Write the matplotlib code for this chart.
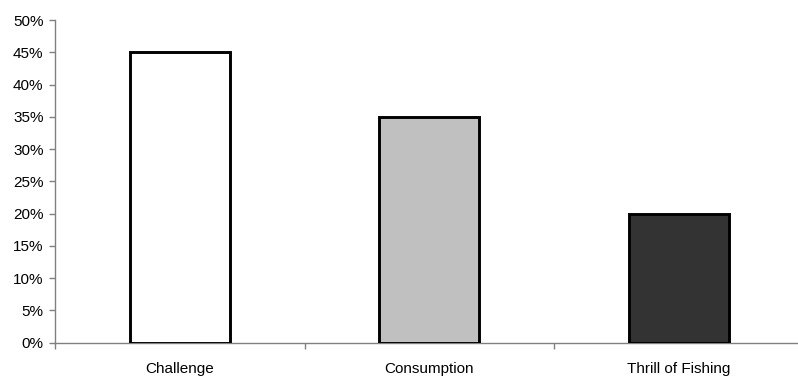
import numpy as np
import matplotlib.pyplot as plt
from matplotlib.ticker import FixedLocator, PercentFormatter

plt.rcParams['font.family'] = ['Liberation Sans', 'DejaVu Sans']

categories = ["Challenge", "Consumption", "Thrill of Fishing"]
shares = [45, 35, 20]
bar_colors = ["#FFFFFF", "#C0C0C0", "#333333"]

fig = plt.figure(figsize=(7.98, 3.79), dpi=100)
ax = fig.add_axes([55 / 798, 36.3 / 379, 748.5 / 798, 322.7 / 379])

x = np.arange(len(categories))
ax.bar(x, shares, width=0.4, color=bar_colors, edgecolor="black", linewidth=2.1, zorder=3)

ax.set_ylim(0, 50)
ax.set_yticks(np.arange(0, 51, 5))
ax.yaxis.set_major_formatter(PercentFormatter(decimals=0))

# category separators as major ticks, names on minor ticks at bar centres
ax.set_xlim(-0.5, len(categories) - 0.5)
ax.xaxis.set_major_locator(FixedLocator(np.arange(-0.5, len(categories), 1.0)))
ax.xaxis.set_minor_locator(FixedLocator(x))
ax.set_xticklabels([])
ax.set_xticklabels(categories, minor=True)

for side in ["top", "right"]:
    ax.spines[side].set_visible(False)
for side in ["left", "bottom"]:
    ax.spines[side].set_color("#808080")
    ax.spines[side].set_linewidth(1.0)

ax.tick_params(axis="y", direction="out", length=4.3, width=1, color="#808080",
               labelsize=11, pad=4)
ax.tick_params(axis="x", which="major", direction="out", length=4.3, width=1, color="#808080")
ax.tick_params(axis="x", which="minor", length=0, labelsize=11, pad=14)

fig.savefig("out.png", dpi=100)
